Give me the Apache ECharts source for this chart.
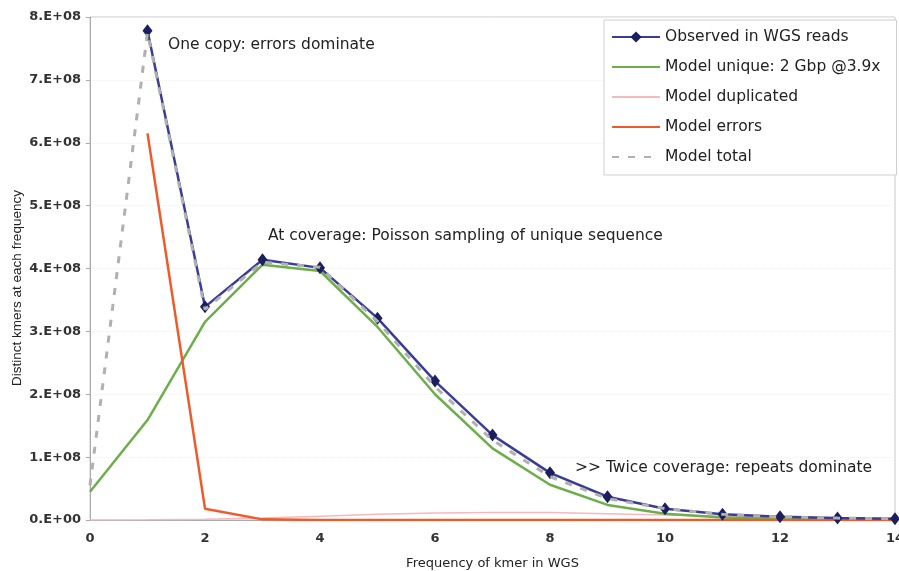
<!DOCTYPE html>
<html lang="en">
<head>
    <meta charset="UTF-8">
    <title>kmer frequency</title>
    <script src="https://cdn.jsdelivr.net/npm/echarts@6/dist/echarts.min.js"></script>
    <style>
        html, body { margin: 0; padding: 0; background: #fff; }
    </style>
</head>
<body>
    <div id="main" style="width: 899px;height:571px;"></div>
    <script type="text/javascript">
        // values in units of 1E8
        var freq = [0, 1, 2, 3, 4, 5, 6, 7, 8, 9, 10, 11, 12, 13, 14];
        var observed = [null, 7.78, 3.39, 4.14, 4.01, 3.21, 2.21, 1.35, 0.75, 0.37, 0.18, 0.09, 0.05, 0.03, 0.02];
        var unique = [0.45, 1.59, 3.15, 4.06, 3.96, 3.07, 2.00, 1.14, 0.56, 0.24, 0.10, 0.04, 0.02, 0.01, 0.00];
        var duplicated = [0.00, 0.003, 0.01, 0.03, 0.06, 0.09, 0.11, 0.12, 0.12, 0.10, 0.08, 0.06, 0.04, 0.03, 0.02];
        var errors = [null, 6.15, 0.18, 0.01, 0.00, 0.00, 0.00, 0.00, 0.00, 0.00, 0.00, 0.00, 0.00, 0.00, 0.00];
        var total = [0.55, 7.75, 3.35, 4.10, 4.02, 3.16, 2.12, 1.27, 0.69, 0.34, 0.18, 0.09, 0.05, 0.03, 0.02];

        function pairs(arr) {
            var out = [];
            for (var i = 0; i < freq.length; i++) {
                if (arr[i] !== null) out.push([freq[i], arr[i] * 1e8]);
            }
            return out;
        }

        var font = 'DejaVu Sans, Verdana, sans-serif';
        var noSymbol = { opacity: 0 };
        var myChart = echarts.init(document.getElementById('main'));
        myChart.setOption({
            animation: false,
            textStyle: { fontFamily: font },
            grid: {
                left: 90, right: 4, top: 17, bottom: 51,
                outerBoundsMode: 'none',
                show: true, borderColor: '#c8c8c8', borderWidth: 1
            },
            legend: {
                orient: 'vertical',
                left: 604,
                top: 20,
                padding: [9, 16, 10, 7],
                itemWidth: 48,
                itemHeight: 14,
                itemGap: 14,
                backgroundColor: '#fff',
                borderColor: '#cfcfcf',
                borderWidth: 1,
                textStyle: { fontSize: 15.5, color: '#222', fontFamily: font },
                data: [
                    { name: 'Observed in WGS reads' },
                    { name: 'Model unique: 2 Gbp @3.9x', itemStyle: noSymbol },
                    { name: 'Model duplicated', itemStyle: noSymbol },
                    { name: 'Model errors', itemStyle: noSymbol },
                    { name: 'Model total', itemStyle: noSymbol }
                ]
            },
            xAxis: {
                type: 'value',
                min: 0,
                max: 14,
                interval: 2,
                name: 'Frequency of kmer in WGS',
                nameLocation: 'middle',
                nameGap: 37,
                nameTextStyle: { fontSize: 13, color: '#222', fontFamily: font },
                axisLine: { lineStyle: { color: '#aaa' } },
                axisTick: { show: false },
                axisLabel: { fontSize: 13, color: '#333', fontWeight: 'bold', margin: 12, fontFamily: font },
                splitLine: { show: false }
            },
            yAxis: {
                type: 'value',
                min: 0,
                max: 8e8,
                interval: 1e8,
                axisLine: { show: true, lineStyle: { color: '#aaa' } },
                axisTick: { show: true, length: 4, lineStyle: { color: '#aaa' } },
                axisLabel: {
                    fontSize: 13, color: '#333', fontWeight: 'bold', margin: 9, fontFamily: font,
                    formatter: function (v) {
                        return Math.round(v / 1e8) + (v === 0 ? '.E+00' : '.E+08');
                    }
                },
                splitLine: { show: true, lineStyle: { color: '#f0f0f0', type: 'dotted' } }
            },
            series: [
                {
                    name: 'Model duplicated',
                    type: 'line',
                    data: pairs(duplicated),
                    symbol: 'none',
                    z: 1,
                    itemStyle: { color: '#f5b9c2' },
                    lineStyle: { color: '#f5b9c2', width: 1.5 }
                },
                {
                    name: 'Model unique: 2 Gbp @3.9x',
                    type: 'line',
                    data: pairs(unique),
                    symbol: 'none',
                    z: 2,
                    itemStyle: { color: '#6cae4a' },
                    lineStyle: { color: '#6cae4a', width: 2.5 }
                },
                {
                    name: 'Model errors',
                    type: 'line',
                    data: pairs(errors),
                    symbol: 'none',
                    z: 3,
                    itemStyle: { color: '#f0592a' },
                    lineStyle: { color: '#f0592a', width: 2.5 }
                },
                {
                    name: 'Observed in WGS reads',
                    type: 'line',
                    data: pairs(observed),
                    symbol: 'diamond',
                    symbolSize: [10, 13],
                    z: 4,
                    itemStyle: { color: '#1b1f5e' },
                    lineStyle: { color: '#3a3c95', width: 2.5 }
                },
                {
                    name: 'Model total',
                    type: 'line',
                    data: pairs(total),
                    symbol: 'none',
                    z: 5,
                    itemStyle: { color: '#b0b0b0' },
                    lineStyle: { color: '#b0b0b0', width: 3, type: [7, 9] }
                }
            ],
            graphic: [
                {
                    type: 'text', x: 17, y: 288, rotation: Math.PI / 2,
                    style: {
                        text: 'Distinct kmers at each frequency', fill: '#222',
                        font: '13.5px Liberation Sans, Arial, sans-serif',
                        align: 'center', verticalAlign: 'middle'
                    }
                },
                { type: 'text', left: 168, top: 37, style: { text: 'One copy: errors dominate', fill: '#222', font: '15.5px ' + font } },
                { type: 'text', left: 268, top: 228, style: { text: 'At coverage: Poisson sampling of unique sequence', fill: '#222', font: '15.5px ' + font } },
                { type: 'text', left: 575, top: 460, style: { text: '>> Twice coverage: repeats dominate', fill: '#222', font: '15.5px ' + font } }
            ]
        });
    </script>
</body>
</html>
